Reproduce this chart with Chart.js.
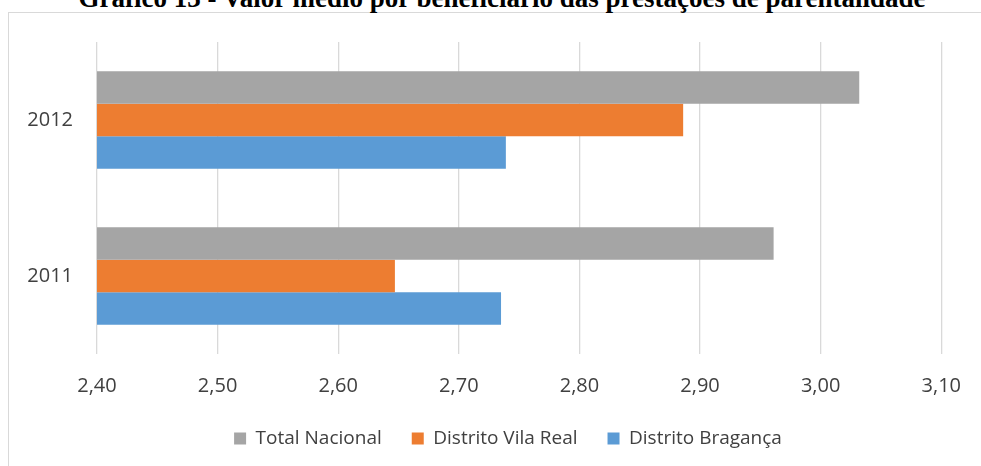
<!DOCTYPE html>
<html>
 <head>
  <title>Gráfico 13</title>
  <meta charset="utf-8">
  <script src="https://cdn.jsdelivr.net/npm/chart.js"></script>
  <style>
    html, body { margin: 0; padding: 0; background: #ffffff; overflow: hidden; }
    #wrap { position: relative; width: 981px; height: 466px; overflow: hidden; }
    #frame { position: absolute; left: 8px; top: 12px; width: 1000px; height: 500px; border: 1.5px solid #d9d9d9; box-sizing: border-box; }
    #titulo { position: absolute; top: -13px; left: 0; width: 1004px; text-align: center; font-family: "Liberation Serif", "Times New Roman", serif; font-weight: bold; font-size: 27px; line-height: 22px; color: #000; white-space: nowrap; }
    #cv { position: absolute; left: 0; top: 0; }
  </style>
 </head>
 <body>
  <div id="wrap">
    <div id="frame"></div>
    <div id="titulo">Gráfico 13 - Valor médio por beneficiário das prestações de parentalidade</div>
    <canvas id="cv" width="981" height="466"></canvas>
  </div>
  <script type="text/javascript">
    // anos (de cima para baixo, como no original)
    var anos = ['2012', '2011'];
    var totalNacional = [3.032, 2.961];
    var distritoVilaReal = [2.886, 2.647];
    var distritoBraganca = [2.739, 2.735];
    var ticksX = [2.40, 2.50, 2.60, 2.70, 2.80, 2.90, 3.00, 3.10];

    var fonte = '"Open Sans", "Liberation Sans", sans-serif';
    var corTexto = '#404040';

    // a legenda do original esta centrada na largura toda, nao so na area do grafico
    var moveLegenda = {
        id: 'moveLegenda',
        afterLayout: function (chart) {
            if (chart.legend) {
                chart.legend.left += 36;
                chart.legend.right += 36;
            }
        }
    };

    var ctx = document.getElementById('cv').getContext('2d');
    var myChart = new Chart(ctx, {
        type: 'bar',
        data: {
            labels: anos,
            datasets: [
                { label: 'Total Nacional', data: totalNacional, backgroundColor: '#a5a5a5' },
                { label: 'Distrito Vila Real', data: distritoVilaReal, backgroundColor: '#ed7d31' },
                { label: 'Distrito Bragança', data: distritoBraganca, backgroundColor: '#5b9bd5' }
            ]
        },
        plugins: [moveLegenda],
        options: {
            indexAxis: 'y',
            responsive: false,
            animation: false,
            categoryPercentage: 0.624,
            barPercentage: 1.0,
            layout: { padding: { top: 42, right: 37, left: 0, bottom: 8 } },
            plugins: {
                title: { display: false },
                tooltip: { enabled: false },
                legend: {
                    position: 'bottom',
                    labels: {
                        color: corTexto,
                        font: { family: fonte, size: 19 },
                        boxWidth: 12,
                        boxHeight: 12,
                        padding: 30
                    }
                }
            },
            scales: {
                x: {
                    min: ticksX[0],
                    max: ticksX[ticksX.length - 1],
                    afterBuildTicks: function (scale) {
                        scale.ticks = ticksX.map(function (v) { return { value: v }; });
                    },
                    afterFit: function (scale) { scale.height = 45; },
                    grid: { color: '#d9d9d9', lineWidth: 1.3, drawTicks: false },
                    border: { display: false },
                    ticks: {
                        color: corTexto,
                        font: { family: fonte, size: 20 },
                        padding: 20,
                        callback: function (v) { return Number(v).toFixed(2).replace('.', ','); }
                    }
                },
                y: {
                    afterFit: function (scale) { scale.width = 97; },
                    grid: { display: false, drawTicks: false },
                    border: { display: false },
                    ticks: {
                        color: corTexto,
                        font: { family: fonte, size: 20 },
                        padding: 24
                    }
                }
            }
        }
    });
  </script>
 </body>
</html>
